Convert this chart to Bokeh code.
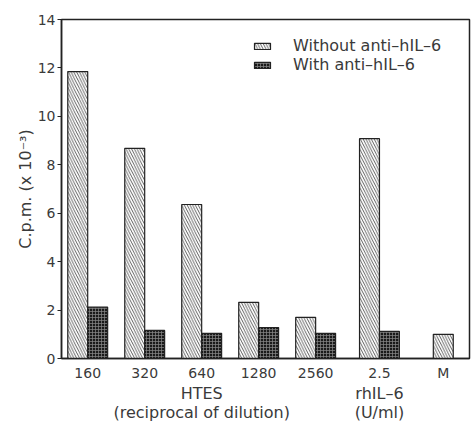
from bokeh.plotting import figure
from bokeh.models import ColumnDataSource, FactorRange, Legend, LegendItem, FixedTicker
from bokeh.transform import dodge
from bokeh.embed import file_html
from bokeh.resources import INLINE

# ---- data (C.p.m. x 10^-3) ----
categories = ["160", "320", "640", "1280", "2560", "2.5", "M"]
groups = ["HTES\n(reciprocal of dilution)"] * 5 + ["rhIL\u20136\n(U/ml)", " "]
without_anti = [11.85, 8.68, 6.36, 2.32, 1.70, 9.08, 1.0]
with_anti = [2.12, 1.16, 1.04, 1.28, 1.04, 1.12]   # no value for M
y_ticks = [0, 2, 4, 6, 8, 10, 12, 14]

factors = list(zip(groups, categories))

FONT = "DejaVu Sans"
TXT = "#3a3a3a"
INK = "#222222"

p = figure(
    width=472, height=424,
    x_range=FactorRange(*factors, range_padding=-0.04, range_padding_units="absolute",
                        group_padding=0.12),
    y_range=(0, 14),
    output_backend="svg", toolbar_location=None,
    min_border_left=61, min_border_right=3, min_border_top=19, min_border_bottom=60,
)
p.background_fill_color = "white"
p.border_fill_color = "white"
p.outline_line_color = INK
p.outline_line_width = 1.5
p.grid.visible = False

n_pair = len(with_anti)
src = ColumnDataSource(dict(f=factors[:n_pair], without=without_anti[:n_pair], withh=with_anti))
msrc = ColumnDataSource(dict(f=factors[n_pair:], without=without_anti[n_pair:]))

bw = 0.35
hatch_kw = dict(fill_color="white", line_color=INK, line_width=1.2,
                hatch_pattern="\\", hatch_color="#3a3a3a", hatch_scale=5.5, hatch_weight=0.8)
dark_kw = dict(fill_color="#1a1a1a", line_color=INK, line_width=1.2,
               hatch_pattern="+", hatch_color="#8a8a8a", hatch_scale=3, hatch_weight=0.7)

r1 = p.vbar(x=dodge("f", -bw / 2, range=p.x_range), top="without", width=bw, source=src, **hatch_kw)
r2 = p.vbar(x=dodge("f", bw / 2, range=p.x_range), top="withh", width=bw, source=src, **dark_kw)
p.vbar(x="f", top="without", width=bw, source=msrc, **hatch_kw)

legend = Legend(
    items=[LegendItem(label="Without anti\u2013hIL\u20136", renderers=[r1]),
           LegendItem(label="With anti\u2013hIL\u20136", renderers=[r2])],
    location=(191, 284),
    padding=0, margin=0, spacing=0,
    glyph_width=20, glyph_height=8, label_height=17, label_standoff=21,
    border_line_color=None, background_fill_alpha=0,
    label_text_font=FONT, label_text_font_size="16px", label_text_color=TXT,
    label_text_line_height=1.0,
)
p.add_layout(legend)

# y axis
p.yaxis.ticker = FixedTicker(ticks=y_ticks)
p.yaxis.minor_tick_line_color = None
p.yaxis.major_tick_out = 4
p.yaxis.major_tick_in = 0
p.yaxis.major_label_standoff = 2
p.yaxis.axis_line_color = INK
p.yaxis.axis_line_width = 1.5
p.yaxis.major_tick_line_color = INK
p.yaxis.major_label_text_font = FONT
p.yaxis.major_label_text_font_size = "14px"
p.yaxis.major_label_text_color = TXT
p.yaxis.axis_label = "C.p.m. (x 10\u207b\u00b3)"
p.yaxis.axis_label_text_font = FONT
p.yaxis.axis_label_text_font_size = "16px"
p.yaxis.axis_label_text_font_style = "normal"
p.yaxis.axis_label_text_color = TXT
p.yaxis.axis_label_standoff = 0

# x axis (categorical, nested)
p.xaxis.major_tick_line_color = None
p.xaxis.minor_tick_line_color = None
p.xaxis.axis_line_color = INK
p.xaxis.axis_line_width = 1.5
p.xaxis.major_label_standoff = 0
p.xaxis.major_label_text_font = FONT
p.xaxis.major_label_text_font_size = "14px"
p.xaxis.major_label_text_color = TXT
p.xaxis.group_text_font = FONT
p.xaxis.group_text_font_size = "16px"
p.xaxis.group_text_font_style = "normal"
p.xaxis.group_text_color = TXT
p.xaxis.group_text_line_height = 1.0
p.xaxis.group_label_orientation = "horizontal"
p.xaxis.separator_line_color = None

open("out.html", "w").write(file_html(p, INLINE))
